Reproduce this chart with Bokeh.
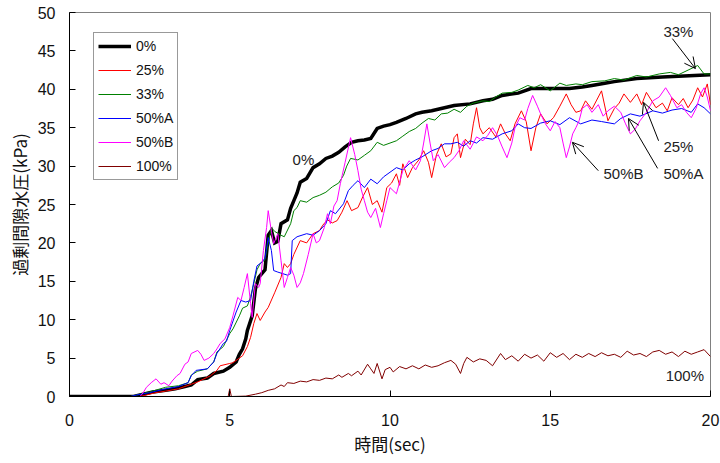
from bokeh.plotting import figure
from bokeh.models import (Legend, LegendItem, Arrow, OpenHead, Label,
                          FixedTicker, Range1d, ColumnDataSource)
from bokeh.embed import file_html
from bokeh.resources import INLINE

# ---------------- data (time sec, excess pore water pressure kPa) ----------------
series_names = ["0%", "25%", "33%", "50%A", "50%B", "100%"]

s_0 = [(0, 0), (2.0, 0), (2.3, 0.3), (2.6, 0.6), (3.0, 0.8), (3.3, 1.0), (3.6, 1.3),
       (3.8, 1.5), (4.0, 2.2), (4.3, 2.4), (4.5, 3.0), (4.8, 3.3), (5.0, 3.8), (5.2, 4.5),
       (5.3, 5.5), (5.4, 6.2), (5.5, 7.5), (5.55, 8.6), (5.7, 10.5), (5.8, 14.0),
       (5.9, 15.5), (6.0, 16.0), (6.1, 16.5), (6.2, 21.0), (6.3, 21.6), (6.4, 20.0),
       (6.5, 20.2), (6.6, 22.5), (6.8, 23.0), (6.9, 24.5), (7.0, 25.5), (7.1, 26.5),
       (7.2, 27.9), (7.4, 28.4), (7.6, 29.8), (7.8, 30.3), (8.0, 31.0), (8.2, 31.3),
       (8.4, 31.8), (8.6, 32.5), (8.8, 33.1), (9.0, 33.3), (9.2, 33.4), (9.4, 33.6),
       (9.6, 34.9), (9.8, 35.2), (10.0, 35.4), (10.2, 35.7), (10.5, 36.2), (10.8, 36.8),
       (11.0, 37.0), (11.3, 37.2), (11.6, 37.5), (12.0, 37.9), (12.5, 38.1), (12.9, 38.5),
       (13.2, 38.7), (13.5, 39.2), (14.0, 39.5), (14.4, 40.1), (15.0, 40.1), (15.6, 40.1),
       (16.0, 40.3), (16.3, 40.5), (16.7, 40.8), (17.0, 41.0), (17.7, 41.4), (18.5, 41.6),
       (19.0, 41.7), (19.5, 41.8), (20.0, 41.9)]

s_25 = [(0, 0), (2.2, 0), (2.4, 0.2), (2.7, 0.5), (3.0, 0.7), (3.4, 1.0), (3.8, 1.6),
        (4.0, 1.9), (4.4, 2.7), (4.6, 3.4), (4.7, 4.0), (5.0, 4.3), (5.1, 4.4), (5.3, 5.0),
        (5.4, 5.3), (5.55, 6.5), (5.65, 7.7), (5.75, 9.5), (5.85, 10.8), (5.95, 9.9),
        (6.1, 11.0), (6.2, 11.6), (6.4, 13.5), (6.6, 15.5), (6.7, 17.3), (6.8, 16.8),
        (6.9, 17.3), (7.0, 18.5), (7.2, 20.3), (7.4, 20.0), (7.6, 21.2), (7.8, 21.6),
        (7.9, 22.3), (8.05, 23.0), (8.2, 22.6), (8.35, 22.9), (8.5, 24.0), (8.66, 25.5),
        (8.8, 24.2), (9.0, 24.6), (9.15, 26.0), (9.3, 27.2), (9.45, 25.0), (9.6, 25.5),
        (9.75, 24.0), (9.9, 27.2), (10.05, 27.8), (10.2, 29.0), (10.3, 27.5), (10.4, 30.3),
        (10.55, 28.5), (10.7, 29.8), (10.9, 30.8), (11.05, 32.0), (11.2, 30.5), (11.3, 28.5),
        (11.45, 31.5), (11.6, 32.9), (11.75, 31.2), (11.9, 31.6), (12.0, 33.7), (12.1, 34.2),
        (12.2, 31.1), (12.35, 33.5), (12.5, 32.8), (12.6, 35.5), (12.7, 37.6), (12.8, 35.0),
        (12.9, 34.2), (13.1, 35.0), (13.3, 33.8), (13.45, 35.5), (13.6, 34.2), (13.75, 33.3),
        (13.9, 35.5), (14.1, 37.2), (14.25, 35.8), (14.4, 32.0), (14.55, 35.0), (14.7, 36.8),
        (14.9, 35.5), (15.1, 36.3), (15.3, 37.8), (15.5, 39.4), (15.65, 38.0), (15.8, 37.0),
        (15.95, 37.2), (16.1, 38.5), (16.3, 37.4), (16.45, 38.6), (16.6, 39.8), (16.8, 35.9),
        (17.0, 37.5), (17.15, 38.2), (17.3, 39.4), (17.5, 38.3), (17.7, 39.4), (17.85, 38.0),
        (18.0, 39.6), (18.15, 38.6), (18.3, 37.6), (18.5, 38.2), (18.65, 37.2), (18.8, 38.9),
        (19.0, 38.0), (19.15, 38.8), (19.3, 37.6), (19.45, 38.6), (19.6, 40.2), (19.75, 39.0),
        (19.9, 40.7), (20.0, 38.0)]

s_33 = [(0, 0), (1.9, 0), (2.1, 0.2), (2.5, 0.6), (3.0, 1.2), (3.4, 1.4), (3.7, 1.8),
        (3.8, 2.8), (4.0, 3.3), (4.3, 3.6), (4.5, 4.5), (4.6, 5.8), (4.8, 6.5), (5.0, 8.2),
        (5.1, 8.8), (5.3, 10.5), (5.4, 11.5), (5.55, 11.8), (5.65, 13.0), (5.75, 14.7),
        (5.85, 16.5), (5.95, 17.3), (6.1, 17.8), (6.2, 20.0), (6.3, 22.0), (6.4, 21.5),
        (6.6, 21.0), (6.7, 20.8), (6.9, 22.5), (7.0, 24.2), (7.1, 24.6), (7.2, 25.5),
        (7.4, 25.3), (7.6, 25.9), (7.8, 26.2), (8.0, 26.6), (8.2, 27.3), (8.4, 27.8),
        (8.55, 28.8), (8.65, 30.0), (8.77, 31.0), (9.0, 30.8), (9.2, 31.4), (9.4, 32.0),
        (9.6, 33.1), (9.8, 32.7), (10.0, 33.0), (10.2, 33.3), (10.4, 33.9), (10.6, 34.5),
        (10.8, 34.9), (11.0, 35.6), (11.2, 36.2), (11.4, 36.0), (11.6, 36.8), (11.8, 36.9),
        (12.0, 37.4), (12.2, 37.0), (12.4, 37.8), (12.6, 38.2), (12.9, 38.5), (13.1, 38.4),
        (13.3, 39.0), (13.5, 39.5), (13.8, 39.6), (14.0, 39.9), (14.3, 40.5), (14.5, 40.2),
        (14.7, 40.6), (15.0, 39.8), (15.3, 40.8), (15.5, 40.5), (15.8, 40.7), (16.0, 40.6),
        (16.3, 41.0), (16.7, 41.1), (17.0, 41.4), (17.3, 41.2), (17.7, 41.8), (18.0, 41.6),
        (18.4, 42.0), (18.75, 42.2), (19.0, 41.9), (19.3, 42.5), (19.6, 43.1), (19.8, 42.0),
        (20.0, 42.0)]

s_50a = [(0, 0), (1.9, 0), (2.1, 0.2), (2.5, 0.5), (3.0, 1.0), (3.4, 1.3), (3.7, 1.8),
         (3.8, 2.7), (3.95, 3.4), (4.3, 3.6), (4.5, 4.5), (4.6, 5.6), (4.8, 6.9), (4.9, 7.2),
         (5.0, 8.6), (5.2, 11.0), (5.35, 12.5), (5.5, 12.3), (5.65, 12.5), (5.75, 15.0),
         (5.85, 17.0), (6.0, 17.5), (6.1, 18.0), (6.2, 20.7), (6.3, 19.0), (6.37, 16.4),
         (6.5, 16.2), (6.8, 15.8), (6.9, 16.0), (6.95, 20.3), (7.1, 20.8), (7.4, 21.2),
         (7.6, 21.0), (7.8, 21.6), (8.0, 22.5), (8.14, 24.2), (8.3, 23.8), (8.55, 25.1),
         (8.7, 26.8), (8.85, 27.5), (9.0, 28.1), (9.2, 27.2), (9.4, 28.3), (9.6, 27.7),
         (9.8, 28.6), (10.0, 29.2), (10.2, 29.8), (10.4, 29.5), (10.6, 30.3), (10.8, 30.8),
         (11.0, 31.2), (11.3, 32.0), (11.5, 32.3), (11.7, 32.9), (11.9, 32.9), (12.1, 33.1),
         (12.3, 32.6), (12.5, 33.3), (12.7, 33.0), (12.9, 33.7), (13.2, 33.5), (13.5, 34.2),
         (13.8, 34.6), (14.0, 35.5), (14.2, 35.0), (14.4, 34.9), (14.7, 35.6), (15.0, 35.9),
         (15.3, 35.4), (15.6, 36.3), (15.95, 35.5), (16.3, 36.0), (16.6, 35.8), (17.0, 35.5),
         (17.2, 36.2), (17.5, 36.8), (17.8, 36.5), (18.2, 37.2), (18.5, 36.9), (18.8, 37.3),
         (19.1, 37.5), (19.4, 37.0), (19.6, 38.1), (19.8, 37.6), (20.0, 36.8)]

s_50b = [(0, 0), (2.2, 0), (2.3, 0.5), (2.4, 1.2), (2.55, 1.8), (2.7, 2.3), (2.85, 1.6),
         (2.95, 1.8), (3.1, 1.4), (3.2, 2.0), (3.35, 2.7), (3.45, 3.0), (3.6, 4.2), (3.7, 4.5),
         (3.8, 5.6), (4.0, 6.0), (4.1, 5.5), (4.2, 4.7), (4.35, 5.0), (4.5, 5.6), (4.6, 6.2),
         (4.7, 6.9), (4.85, 7.5), (5.0, 9.0), (5.1, 10.5), (5.25, 12.9), (5.35, 12.5),
         (5.45, 14.2), (5.55, 16.0), (5.65, 12.1), (5.7, 10.3), (5.8, 14.7), (5.9, 14.2),
         (5.95, 14.7), (6.05, 19.0), (6.15, 22.0), (6.2, 24.2), (6.3, 21.5), (6.37, 19.9),
         (6.5, 21.2), (6.6, 17.7), (6.7, 14.2), (6.8, 15.5), (6.9, 16.8), (7.0, 15.8),
         (7.1, 14.2), (7.2, 14.8), (7.3, 16.0), (7.45, 18.5), (7.6, 21.2), (7.7, 20.0),
         (7.8, 20.3), (7.95, 22.0), (8.05, 23.8), (8.14, 22.5), (8.25, 24.8), (8.35, 25.5),
         (8.45, 27.7), (8.6, 30.5), (8.77, 33.7), (8.9, 31.5), (9.0, 29.4), (9.1, 27.0),
         (9.2, 25.5), (9.3, 24.0), (9.4, 23.3), (9.55, 24.5), (9.7, 22.0), (9.8, 23.8),
         (9.9, 25.5), (10.0, 27.2), (10.2, 26.4), (10.4, 29.4), (10.6, 30.7), (10.8, 29.5),
         (10.95, 30.7), (11.05, 33.0), (11.15, 35.5), (11.25, 33.0), (11.35, 30.7), (11.5, 31.5),
         (11.7, 29.8), (11.85, 30.5), (12.0, 31.1), (12.15, 32.0), (12.3, 33.3), (12.5, 32.2),
         (12.7, 33.8), (12.9, 33.3), (13.05, 34.0), (13.2, 35.0), (13.35, 34.0), (13.5, 32.5),
         (13.65, 31.1), (13.8, 33.0), (13.9, 35.0), (14.05, 36.3), (14.2, 36.0), (14.3, 37.5),
         (14.45, 39.2), (14.6, 37.8), (14.7, 36.8), (14.85, 35.5), (15.0, 34.6), (15.15, 35.8),
         (15.3, 35.0), (15.4, 33.0), (15.5, 31.1), (15.6, 32.5), (15.7, 34.2), (15.8, 35.0),
         (15.9, 35.9), (16.0, 37.5), (16.15, 38.0), (16.3, 37.0), (16.5, 38.0), (16.65, 36.5),
         (16.8, 37.2), (17.0, 37.8), (17.2, 37.0), (17.35, 35.5), (17.5, 34.2), (17.65, 34.8),
         (17.8, 35.9), (18.0, 37.0), (18.2, 38.5), (18.4, 39.0), (18.6, 40.2), (18.75, 39.2),
         (18.95, 37.6), (19.1, 38.0), (19.25, 37.0), (19.4, 36.3), (19.55, 37.5), (19.7, 39.5),
         (19.8, 40.2), (19.9, 39.0), (20.0, 37.2)]

s_100 = [(0, 0), (4.95, 0), (5.0, 1.0), (5.05, 0), (5.5, 0.05), (5.8, 0.3), (6.0, 0.5),
         (6.2, 0.8), (6.4, 1.0), (6.6, 1.5), (6.7, 1.3), (6.8, 1.8), (7.0, 1.7), (7.2, 2.0),
         (7.4, 1.9), (7.6, 2.2), (7.8, 2.1), (8.0, 2.4), (8.2, 2.3), (8.4, 2.8), (8.5, 2.5),
         (8.7, 3.0), (8.8, 2.7), (9.0, 3.3), (9.1, 2.8), (9.3, 4.2), (9.4, 3.6), (9.5, 3.0),
         (9.6, 4.3), (9.75, 2.3), (9.85, 3.5), (10.0, 3.8), (10.1, 3.2), (10.3, 3.9),
         (10.5, 3.6), (10.7, 4.0), (10.9, 3.6), (11.1, 4.1), (11.3, 3.8), (11.5, 4.0),
         (11.7, 4.4), (11.9, 4.7), (12.05, 4.2), (12.2, 3.0), (12.3, 4.3), (12.4, 5.1),
         (12.6, 4.5), (12.8, 4.9), (13.0, 4.7), (13.2, 4.0), (13.45, 5.6), (13.6, 4.8),
         (13.8, 5.3), (14.0, 4.6), (14.2, 5.5), (14.4, 5.0), (14.6, 5.4), (14.8, 4.6),
         (15.0, 5.7), (15.2, 5.1), (15.4, 5.6), (15.6, 4.8), (15.8, 5.5), (16.0, 5.1),
         (16.2, 5.6), (16.4, 5.2), (16.6, 5.7), (16.8, 5.3), (17.0, 5.5), (17.2, 5.1),
         (17.4, 5.9), (17.6, 5.4), (17.8, 5.6), (18.0, 5.2), (18.2, 5.8), (18.4, 6.0),
         (18.6, 5.5), (18.8, 5.8), (19.0, 5.2), (19.2, 5.9), (19.4, 5.5), (19.6, 5.8),
         (19.8, 6.1), (20.0, 5.2)]

x_ticks = [0, 5, 10, 15, 20]
y_ticks = [0, 5, 10, 15, 20, 25, 30, 35, 40, 45, 50]

series_data = [s_0, s_25, s_33, s_50a, s_50b, s_100]
series_colors = ["#000000", "#FF0000", "#008000", "#0000FF", "#FF00FF", "#800000"]
series_widths = [3.5, 1, 1, 1, 1, 1]

LATIN = "Liberation Sans"
CJK = "Noto Sans CJK JP"

p = figure(width=720, height=463, output_backend="svg", toolbar_location=None,
           x_range=Range1d(0, 20), y_range=Range1d(0, 50),
           min_border_left=69, min_border_right=10, min_border_top=12, min_border_bottom=67,
           x_axis_label="時間(sec)", y_axis_label="過剰間隙水圧(kPa)")
p.background_fill_color = "white"
p.border_fill_color = "white"
p.outline_line_color = "#808080"
p.outline_line_width = 1
p.grid.visible = False

for ax in (p.xaxis[0], p.yaxis[0]):
    ax.axis_line_color = "black"
    ax.axis_line_width = 1
    ax.major_tick_in = 6
    ax.major_tick_out = 0
    ax.minor_tick_line_color = None
    ax.major_tick_line_color = "black"
    ax.major_label_text_font = LATIN
    ax.major_label_text_font_size = "16px"
    ax.major_label_text_color = "#111111"
    ax.axis_label_text_font = CJK
    ax.axis_label_text_font_size = "17px"
    ax.axis_label_text_font_style = "normal"
    ax.axis_label_text_color = "#111111"

p.xaxis[0].ticker = FixedTicker(ticks=x_ticks)
p.yaxis[0].ticker = FixedTicker(ticks=y_ticks)
p.xaxis[0].major_label_standoff = 17
p.xaxis[0].axis_label_standoff = 2
p.yaxis[0].major_label_standoff = 14
p.yaxis[0].axis_label_standoff = 3

items = []
for name, data, col, w in zip(series_names, series_data, series_colors, series_widths):
    ts = [d[0] for d in data]
    vs = [d[1] for d in data]
    src = ColumnDataSource(dict(t=ts, v=vs))
    r = p.line("t", "v", source=src, line_color=col, line_width=w, line_join="miter")
    items.append(LegendItem(label=name, renderers=[r]))

legend = Legend(items=items, location=(24, 216), orientation="vertical",
                label_text_font=LATIN, label_text_font_size="14px",
                label_text_color="#111111",
                glyph_width=33, glyph_height=18, label_height=18, label_standoff=5,
                spacing=6, padding=4, margin=0,
                border_line_color="#333333", border_line_width=1,
                background_fill_color="white", background_fill_alpha=1)
p.add_layout(legend, "center")

# annotation labels
ann = [("0%", 6.96, 30.8), ("33%", 18.53, 47.5), ("25%", 18.53, 32.5),
       ("50%A", 18.53, 29.1), ("50%B", 16.66, 29.1), ("100%", 18.6, 2.73)]
for txt, x, y in ann:
    p.add_layout(Label(x=x, y=y, text=txt, text_font=LATIN, text_font_size="15px",
                       text_color="#222222", text_baseline="middle", text_align="left"))

# arrows (start -> tip)
arrows = [(18.81, 46.6, 19.53, 42.7), (18.38, 33.3, 17.91, 38.3),
          (18.35, 29.7, 17.44, 36.2), (16.5, 29.4, 15.69, 33.1)]
for xs, ys, xe, ye in arrows:
    p.add_layout(Arrow(end=OpenHead(size=11, line_width=1, line_color="black"),
                       x_start=xs, y_start=ys, x_end=xe, y_end=ye,
                       line_color="black", line_width=1))

open("out.html", "w").write(file_html(p, INLINE))
